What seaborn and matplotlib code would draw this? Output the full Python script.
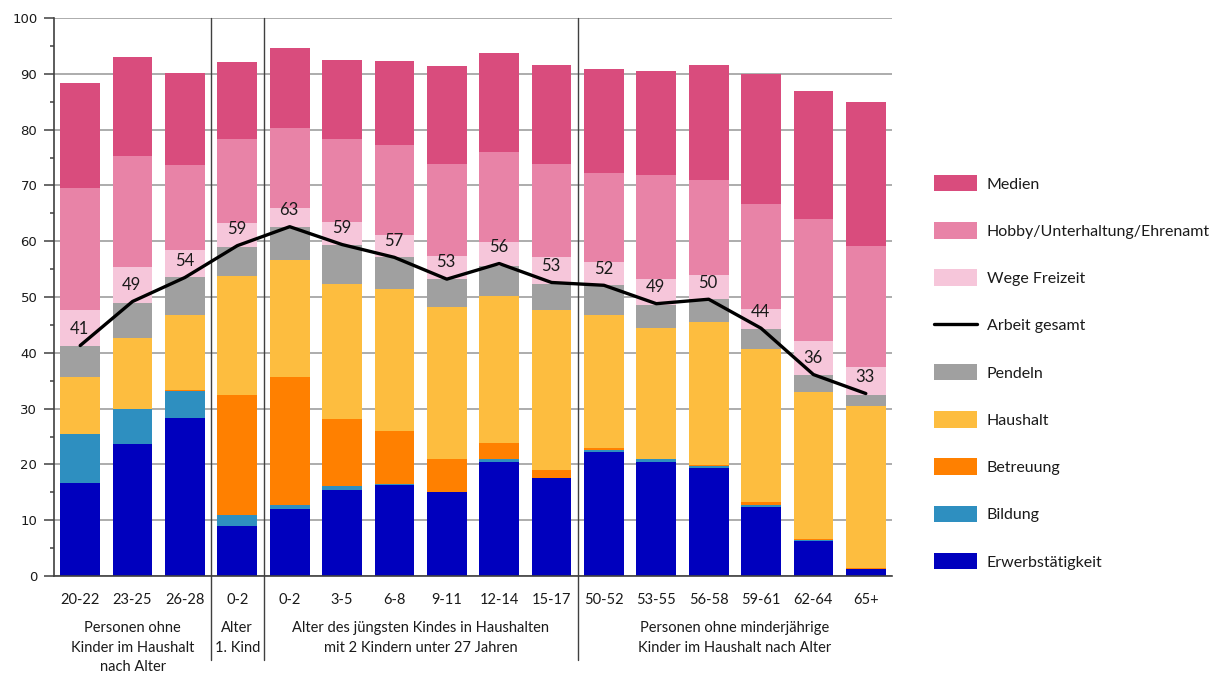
import numpy as np
import pandas as pd
import matplotlib
matplotlib.use("Agg")
import matplotlib.pyplot as plt
import matplotlib.transforms as mtransforms
from matplotlib.patches import Patch
from matplotlib.lines import Line2D
import seaborn as sns

# ---------------- data ----------------
categories = ["20-22", "23-25", "26-28", "0-2", "0-2", "3-5", "6-8", "9-11",
              "12-14", "15-17", "50-52", "53-55", "56-58", "59-61", "62-64", "65+"]

erwerb    = [16.6, 23.6, 28.3, 8.9, 12.0, 15.5, 16.3, 15.0, 20.5, 17.5, 22.2, 20.5, 19.4, 12.3, 6.3, 1.2]
bildung   = [8.9, 6.3, 4.8, 2.0, 0.7, 0.6, 0.1, 0.0, 0.5, 0.0, 0.3, 0.4, 0.3, 0.4, 0.1, 0.1]
betreuung = [0.0, 0.0, 0.2, 21.6, 22.9, 12.0, 9.6, 6.0, 2.8, 1.5, 0.4, 0.1, 0.2, 0.6, 0.2, 0.2]
haushalt  = [10.1, 12.7, 13.5, 21.3, 21.0, 24.2, 25.4, 27.2, 26.3, 28.6, 23.9, 23.4, 25.6, 27.3, 26.3, 28.9]
pendeln   = [5.7, 6.4, 6.7, 5.2, 6.0, 7.1, 5.7, 5.0, 5.5, 4.8, 5.3, 4.1, 4.1, 3.6, 3.1, 2.1]
wege      = [6.3, 6.3, 4.9, 4.2, 3.4, 4.1, 4.1, 4.1, 4.3, 4.7, 4.1, 4.8, 4.4, 3.7, 6.2, 4.9]
hobby     = [22.0, 20.0, 15.2, 15.2, 14.3, 14.9, 16.1, 16.6, 16.0, 16.8, 16.1, 18.6, 16.9, 18.7, 21.8, 21.8]
medien    = [18.8, 17.8, 16.6, 13.8, 14.4, 14.1, 15.0, 17.5, 17.9, 17.7, 18.6, 18.6, 20.7, 23.3, 23.0, 25.8]

arbeit_gesamt = [41.3, 49.2, 53.5, 59.2, 62.6, 59.4, 57.1, 53.2, 56.0, 52.6, 52.1, 48.8, 49.6, 44.4, 36.1, 32.7]
arbeit_labels = ["41", "49", "54", "59", "63", "59", "57", "53", "56", "53", "52", "49", "50", "44", "36", "33"]

series_names = ["Erwerbstätigkeit", "Bildung", "Betreuung", "Haushalt", "Pendeln",
                "Wege Freizeit", "Hobby/Unterhaltung/Ehrenamt", "Medien"]
series_values = [erwerb, bildung, betreuung, haushalt, pendeln, wege, hobby, medien]
series_colors = ["#0000BE", "#2E8FC0", "#FF8000", "#FDBD3F", "#A0A0A0",
                 "#F6C6DA", "#E883A7", "#D94C7D"]

group_labels = [
    (1.0, ["Personen ohne", "Kinder im Haushalt", "nach Alter"]),
    (3.0, ["Alter", "1. Kind"]),
    (6.5, ["Alter des jüngsten Kindes in Haushalten", "mit 2 Kindern unter 27 Jahren"]),
    (12.5, ["Personen ohne minderjährige", "Kinder im Haushalt nach Alter"]),
]
group_bounds = [2.5, 3.5, 9.5]

# ---------------- style ----------------
sns.set_style("white")
plt.rcParams["font.family"] = ["Lato", "DejaVu Sans"]

W, H = 1212, 675
fig = plt.figure(figsize=(W / 100, H / 100), dpi=100)
ax = fig.add_axes([54 / W, 1 - 576 / H, (892 - 54) / W, 558 / H])

ids = [f"c{i}" for i in range(len(categories))]
tops = np.cumsum(np.array(series_values), axis=0)

# draw stacked bars: tallest cumulative first, then overlay
for k in range(len(series_names) - 1, -1, -1):
    df = pd.DataFrame({"cat": ids, "top": tops[k]})
    sns.barplot(data=df, x="cat", y="top", order=ids, color=series_colors[k],
                saturation=1, width=0.76, errorbar=None, linewidth=0, ax=ax,
                zorder=2)

xpos = np.arange(len(categories))
sns.lineplot(x=xpos, y=arbeit_gesamt, color="black", linewidth=2.4, ax=ax,
             zorder=5, sort=False)
for x, y, t in zip(xpos, arbeit_gesamt, arbeit_labels):
    ax.annotate(t, (x, y), xytext=(-0.5, 12), textcoords="offset points",
                ha="center", va="center", fontsize=12, color="#1a1a1a", zorder=6)

# axes
ax.set_xlim(-0.5, len(categories) - 0.5)
ax.set_ylim(0, 100)
ax.set_xlabel("")
ax.set_ylabel("")
ax.set_yticks(np.arange(0, 101, 10))
ax.set_yticks(np.arange(5, 100, 10), minor=True)
ax.set_yticklabels([str(v) for v in range(0, 101, 10)],
                   fontfamily="DejaVu Sans", fontsize=9.5, color="#1a1a1a")
ax.set_xticks(xpos)
ax.set_xticklabels(categories, fontsize=10.5, color="#1a1a1a")
ax.set_xticks(np.arange(-0.5, len(categories), 1.0), minor=True)
ax.tick_params(axis="x", which="major", length=0, pad=12)
ax.tick_params(axis="x", which="minor", length=7, width=1.1, color="#404040",
               direction="out")
ax.tick_params(axis="y", which="major", length=7, width=1.1, color="#404040",
               direction="out", pad=5, left=True)
ax.tick_params(axis="y", which="minor", length=3, width=1.1, color="#404040",
               direction="out", left=True)

ax.yaxis.grid(True, color="#A6A6A6", linewidth=1.3)
ax.xaxis.grid(False)
ax.set_axisbelow(True)
for s in ["top", "right"]:
    ax.spines[s].set_visible(False)
for s in ["left", "bottom"]:
    ax.spines[s].set_color("#404040")
    ax.spines[s].set_linewidth(1.2)

# group dividers
for b in group_bounds:
    ax.plot([b, b], [100, -15.0], color="#404040", linewidth=1.0,
            clip_on=False, zorder=3)

# group labels
trans = mtransforms.blended_transform_factory(ax.transData, fig.transFigure)
for xc, lines in group_labels:
    for i, line in enumerate(lines):
        ypix = 628 + 19.5 * i
        ax.text(xc, 1 - ypix / H, line, transform=trans, ha="center",
                va="center", fontsize=10.5, color="#1a1a1a")

# legend
handles = []
labels = []
for k in [7, 6, 5]:
    handles.append(Patch(facecolor=series_colors[k], edgecolor="none"))
    labels.append(series_names[k])
handles.append(Line2D([0], [0], color="black", linewidth=2.4))
labels.append("Arbeit gesamt")
for k in [4, 3, 2, 1, 0]:
    handles.append(Patch(facecolor=series_colors[k], edgecolor="none"))
    labels.append(series_names[k])

leg = ax.legend(handles, labels, loc="upper left",
                bbox_to_anchor=(934 / W, 1 - 175 / H),
                bbox_transform=fig.transFigure, frameon=False,
                fontsize=11.5, handlelength=2.7, handleheight=1.2,
                handletextpad=0.6, labelspacing=1.92, borderpad=0,
                borderaxespad=0)
for t in leg.get_texts():
    t.set_color("#1a1a1a")

fig.savefig("out.png", dpi=100)
